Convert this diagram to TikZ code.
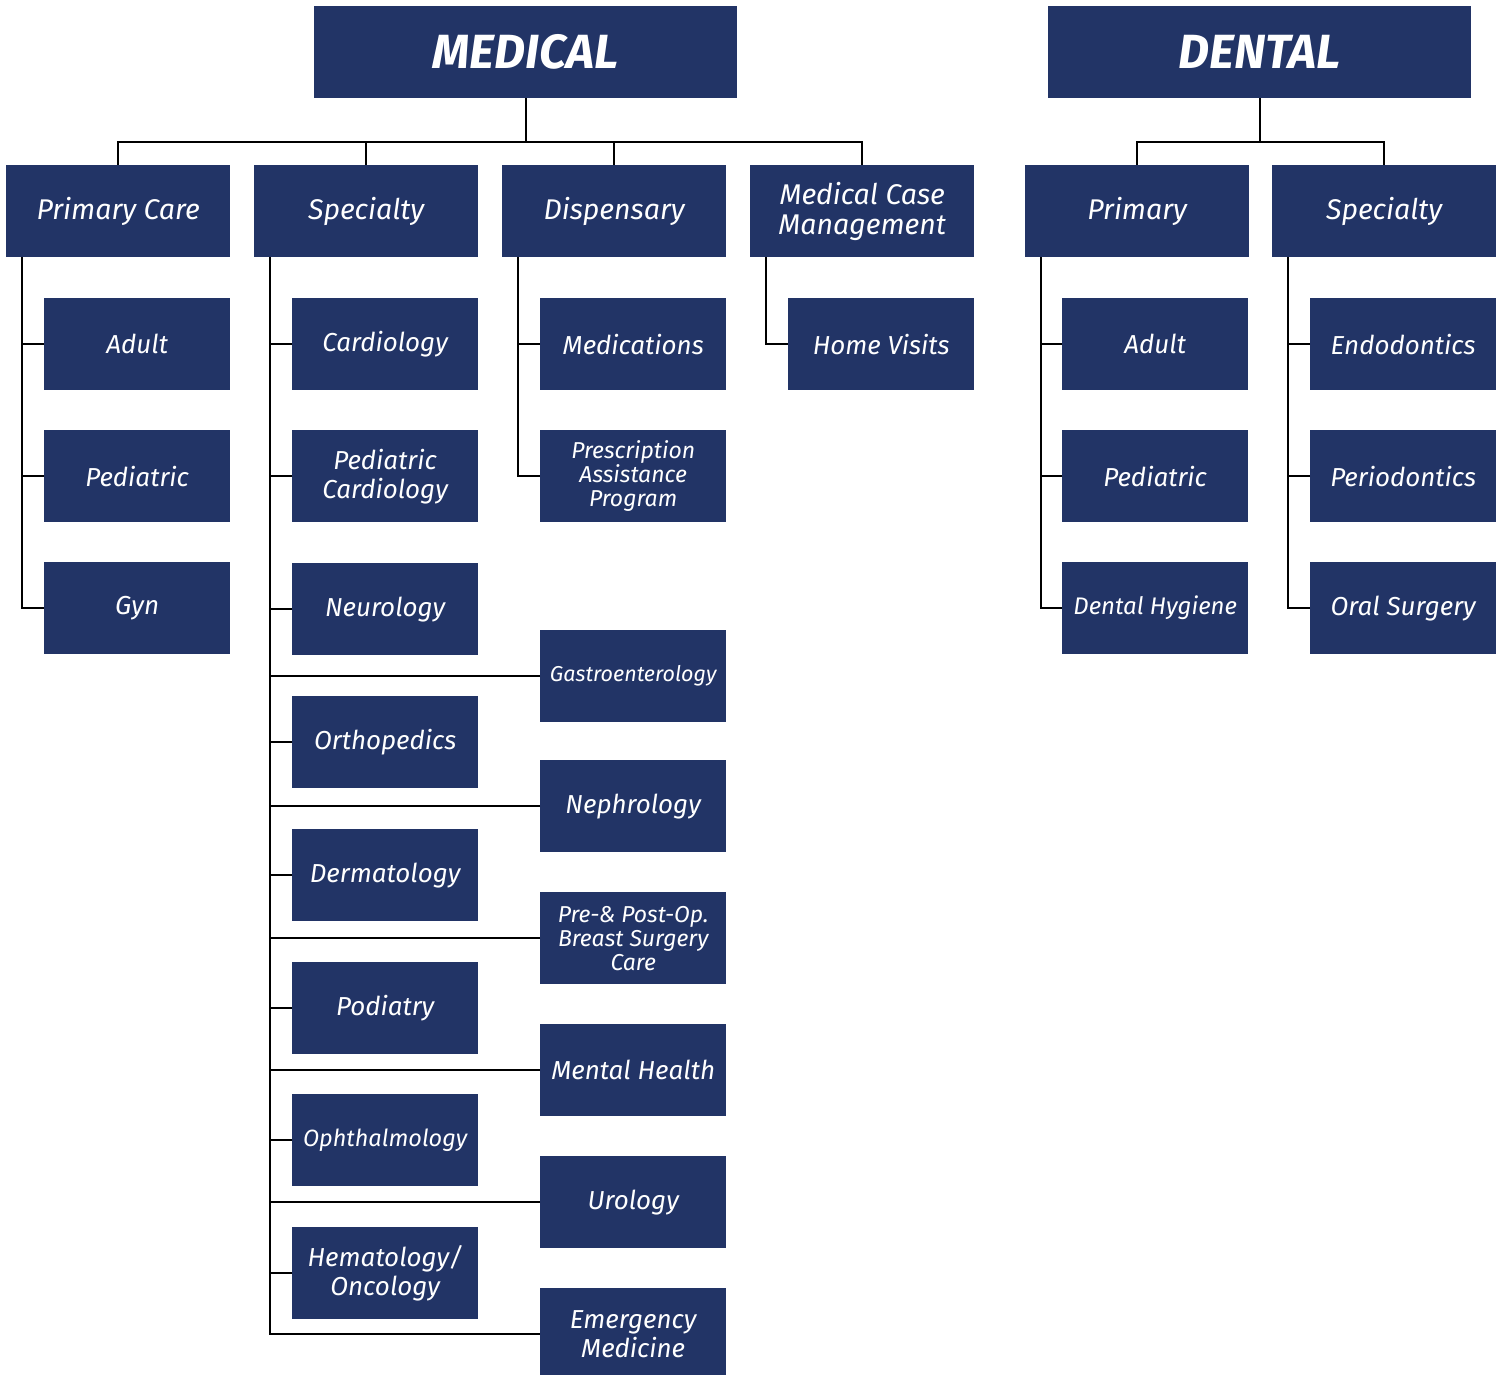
\documentclass[tikz,border=0pt]{standalone}
\usepackage{fontspec}
\setmainfont{Fira Sans}
\usetikzlibrary{calc}
\definecolor{navy}{RGB}{34,52,102}
\tikzset{
  box/.style={fill=navy, text=white, inner sep=0pt, align=center, anchor=north west,
    minimum width=186pt, minimum height=92pt, font=\itshape\fontsize{26}{29}\selectfont},
  head/.style={box, minimum width=423pt, font=\bfseries\itshape\fontsize{48}{50}\selectfont},
  cat/.style={box, minimum width=224pt, font=\itshape\fontsize{28.5}{30}\selectfont},
  small/.style={font=\itshape\fontsize{23}{24}\selectfont},
  tiny/.style={font=\itshape\fontsize{21.5}{23}\selectfont},
  mid/.style={font=\itshape\fontsize{23.5}{25}\selectfont},
  dhy/.style={font=\itshape\fontsize{24}{25}\selectfont},
  link/.style={line width=2pt, black}
}
\begin{document}
\begin{tikzpicture}[x=1pt,y=-1pt]
\useasboundingbox (0,0) rectangle (1499,1375);
% headers
\node[head] (med) at (314,6) {MEDICAL};
\node[head] (den) at (1048,6) {DENTAL};
% level 2
\node[cat] (pc) at (6,165) {Primary Care};
\node[cat] (sp) at (254,165) {Specialty};
\node[cat] (dis) at (502,165) {Dispensary};
\node[cat] (mcm) at (750,165) {Medical Case\\Management};
\node[cat] (dpr) at (1025,165) {Primary};
\node[cat] (dsp) at (1272,165) {Specialty};
% primary care children
\node[box] (pca) at (44,298) {Adult};
\node[box] (pcp) at (44,430) {Pediatric};
\node[box] (pcg) at (44,562) {Gyn};
% specialty left column
\node[box] (card) at (292,298) {Cardiology};
\node[box] (pcard) at (292,430) {Pediatric\\Cardiology};
\node[box] (neur) at (292,563) {Neurology};
\node[box] (orth) at (292,696) {Orthopedics};
\node[box] (derm) at (292,829) {Dermatology};
\node[box] (podi) at (292,962) {Podiatry};
\node[box,mid] (opht) at (292,1094) {Ophthalmology};
\node[box] (hema) at (292,1227) {Hematology/\\Oncology};
% specialty right column
\node[box,tiny] (gast) at (540,630) {Gastroenterology};
\node[box] (neph) at (540,760) {Nephrology};
\node[box,small] (prep) at (540,892) {Pre-\& Post-Op.\\Breast Surgery\\Care};
\node[box] (ment) at (540,1024) {Mental Health};
\node[box] (urol) at (540,1156) {Urology};
\node[box] (emer) at (540,1288) {Emergency\\Medicine};
% dispensary
\node[box] (medi) at (540,298) {Medications};
\node[box,small] (pap) at (540,430) {Prescription\\Assistance\\Program};
% MCM
\node[box] (home) at (788,298) {Home Visits};
% dental
\node[box] (da) at (1062,298) {Adult};
\node[box] (dp) at (1062,430) {Pediatric};
\node[box,dhy] (dh) at (1062,562) {Dental Hygiene};
\node[box] (endo) at (1310,298) {Endodontics};
\node[box] (peri) at (1310,430) {Periodontics};
\node[box] (oral) at (1310,562) {Oral Surgery};
% bars
\coordinate (mbar) at (525,142);
\coordinate (dbar) at (1259,142);
\draw[link] (med.south) -- (med.south |- mbar);
\draw[link] (pc.north) -- (pc.north |- mbar) -- (mcm.north |- mbar) -- (mcm.north);
\draw[link] (sp.north) -- (sp.north |- mbar);
\draw[link] (dis.north) -- (dis.north |- mbar);
\draw[link] (den.south) -- (den.south |- dbar);
\draw[link] (dpr.north) -- (dpr.north |- dbar) -- (dsp.north |- dbar) -- (dsp.north);
% trunks
\coordinate (pcT) at ($(pc.south west)+(16,0)$);
\coordinate (spT) at ($(sp.south west)+(16,0)$);
\coordinate (disT) at ($(dis.south west)+(16,0)$);
\coordinate (mcmT) at ($(mcm.south west)+(16,0)$);
\coordinate (dprT) at ($(dpr.south west)+(16,0)$);
\coordinate (dspT) at ($(dsp.south west)+(16,0)$);
\draw[link] (pcT) |- (pcg.west);
\foreach \c in {pca,pcp} \draw[link] (\c.west) -- (\c.west -| pcT);
\draw[link] (spT) |- (emer.west);
\foreach \c in {card,pcard,neur,orth,derm,podi,opht,hema,gast,neph,prep,ment,urol} \draw[link] (\c.west) -- (\c.west -| spT);
\draw[link] (disT) |- (pap.west);
\draw[link] (medi.west) -- (medi.west -| disT);
\draw[link] (mcmT) |- (home.west);
\draw[link] (dprT) |- (dh.west);
\foreach \c in {da,dp} \draw[link] (\c.west) -- (\c.west -| dprT);
\draw[link] (dspT) |- (oral.west);
\foreach \c in {endo,peri} \draw[link] (\c.west) -- (\c.west -| dspT);
\end{tikzpicture}
\end{document}
